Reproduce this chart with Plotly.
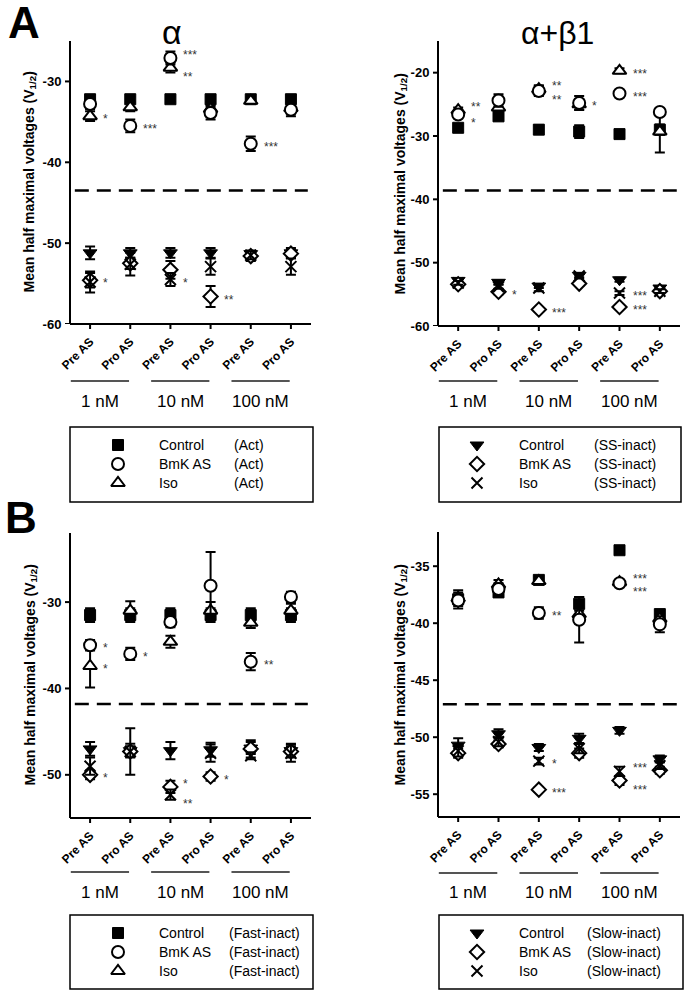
import plotly.graph_objects as go

W, H = 685, 995

# ── Data ──────────────────────────────────────────────────────────────────────
categories = ["Pre AS", "Pro AS", "Pre AS", "Pro AS", "Pre AS", "Pro AS"]
groups = ["1 nM", "10 nM", "100 nM"]
titles = ["α", "α+β1", "", ""]
separators = [-43.5, -38.6, -41.8, -47.1]

# Panel A, alpha
aa_ctrl_act = [-32.2, -32.2, -32.2, -32.2, -32.2, -32.2]
aa_ctrl_act_err = [0.3, 0.3, 0.3, 0.3, 0.3, 0.3]
aa_bmk_act = [-32.8, -35.5, -27.1, -33.9, -37.7, -33.5]
aa_bmk_act_err = [0.6, 0.8, 0.8, 0.8, 0.9, 0.8]
aa_iso_act = [-34.3, -33.2, -28.3, -33.4, -32.4, -33.3]
aa_iso_act_err = [0.6, 0.5, 0.6, 0.5, 0.3, 0.5]
aa_ctrl_in = [-51.2, -51.2, -51.2, -51.2, -51.3, -51.2]
aa_ctrl_in_err = [0.8, 0.6, 0.6, 0.6, 0.4, 0.6]
aa_bmk_in = [-54.6, -52.5, -53.3, -56.6, -51.6, -51.3]
aa_bmk_in_err = [0.9, 0.7, 1.1, 1.3, 0.6, 0.5]
aa_iso_in = [-54.8, -52.6, -54.5, -52.9, -51.5, -52.9]
aa_iso_in_err = [1.3, 1.4, 0.8, 1.0, 0.5, 1.0]
aa_bmk_act_sig = ["", "***", "***", "", "***", ""]
aa_iso_act_sig = ["*", "", "**", "", "", ""]
aa_bmk_in_sig = ["*", "", "", "**", "", ""]
aa_iso_in_sig = ["", "", "*", "", "", ""]

# Panel A, alpha+beta1
ab_ctrl_act = [-28.7, -26.9, -29.0, -29.3, -29.7, -29.0]
ab_ctrl_act_err = [0.3, 0.6, 0.7, 1.0, 0.3, 0.8]
ab_bmk_act = [-26.6, -24.4, -22.9, -24.8, -23.3, -26.2]
ab_bmk_act_err = [0.4, 1.0, 0.8, 1.1, 0.3, 0.5]
ab_iso_act = [-25.9, -25.5, -22.6, -25.0, -19.7, -29.3]
ab_iso_act_err = [0.4, 0.9, 0.6, 0.8, 0.4, 3.3]
ab_ctrl_in = [-52.8, -53.1, -53.7, -52.0, -52.7, -54.0]
ab_ctrl_in_err = [0.3, 0.3, 0.3, 0.3, 0.3, 0.3]
ab_bmk_in = [-53.4, -54.6, -57.4, -53.3, -57.0, -54.5]
ab_bmk_in_err = [0.3, 0.4, 0.3, 0.4, 0.2, 0.3]
ab_iso_in = [-53.2, -53.8, -54.0, -52.1, -54.8, -54.5]
ab_iso_in_err = [0.3, 0.3, 0.5, 0.4, 0.3, 0.3]
ab_bmk_act_sig = ["*", "", "**", "*", "***", ""]
ab_iso_act_sig = ["**", "", "**", "", "***", ""]
ab_bmk_in_sig = ["", "*", "***", "", "***", ""]
ab_iso_in_sig = ["", "", "", "", "***", ""]

# Panel B, alpha
ba_ctrl_act = [-31.5, -31.5, -31.5, -31.5, -31.5, -31.5]
ba_ctrl_act_err = [0.8, 0.8, 0.8, 0.8, 0.8, 0.8]
ba_bmk_act = [-35.0, -36.0, -32.3, -28.1, -36.9, -29.4]
ba_bmk_act_err = [0.6, 0.7, 0.6, 3.9, 1.0, 0.6]
ba_iso_act = [-37.4, -31.0, -34.6, -31.0, -32.4, -31.0]
ba_iso_act_err = [2.5, 1.1, 0.7, 1.0, 0.6, 0.8]
ba_ctrl_in = [-47.0, -47.2, -47.2, -47.1, -46.9, -47.2]
ba_ctrl_in_err = [0.8, 0.8, 1.0, 0.8, 0.7, 0.8]
ba_bmk_in = [-50.0, -47.3, -51.4, -50.2, -47.0, -47.3]
ba_bmk_in_err = [0.5, 0.6, 0.7, 0.5, 1.0, 0.6]
ba_iso_in = [-49.0, -47.3, -52.3, -47.5, -47.8, -47.5]
ba_iso_in_err = [1.0, 2.7, 0.6, 1.0, 0.4, 1.0]
ba_bmk_act_sig = ["*", "*", "", "", "**", ""]
ba_iso_act_sig = ["*", "", "", "", "", ""]
ba_bmk_in_sig = ["*", "", "*", "*", "", ""]
ba_iso_in_sig = ["", "", "**", "", "", ""]

# Panel B, alpha+beta1
bb_ctrl_act = [-37.9, -37.3, -36.2, -38.3, -33.6, -39.2]
bb_ctrl_act_err = [0.8, 0.4, 0.3, 0.6, 0.3, 0.3]
bb_bmk_act = [-38.0, -37.0, -39.1, -39.7, -36.5, -40.1]
bb_bmk_act_err = [0.5, 0.5, 0.5, 2.0, 0.2, 0.7]
bb_iso_act = [-37.8, -36.6, -36.3, -39.2, -36.4, -39.6]
bb_iso_act_err = [0.5, 0.4, 0.3, 0.5, 0.2, 0.4]
bb_ctrl_in = [-50.7, -49.7, -50.9, -50.1, -49.4, -51.9]
bb_ctrl_in_err = [0.6, 0.4, 0.3, 0.4, 0.3, 0.3]
bb_bmk_in = [-51.4, -50.6, -54.6, -51.4, -53.8, -52.9]
bb_bmk_in_err = [0.4, 0.3, 0.2, 0.4, 0.4, 0.3]
bb_iso_in = [-51.2, -50.4, -52.1, -51.0, -53.0, -52.5]
bb_iso_in_err = [0.5, 0.4, 0.3, 0.4, 0.4, 0.3]
bb_bmk_act_sig = ["", "", "**", "", "***", ""]
bb_iso_act_sig = ["", "", "", "", "***", ""]
bb_bmk_in_sig = ["", "", "***", "", "***", ""]
bb_iso_in_sig = ["", "", "*", "", "***", ""]

legend_names = ["Control", "BmK AS", "Iso"]
legend_tags = ["(Act)", "(SS-inact)", "(Fast-inact)", "(Slow-inact)"]

# ── Styles ────────────────────────────────────────────────────────────────────
FONT = "Liberation Sans, Arial, sans-serif"
M_CTRL_ACT = dict(symbol="square", size=11, color="black", line=dict(color="black", width=1))
M_BMK_ACT = dict(symbol="circle", size=12, color="white", line=dict(color="black", width=2))
M_ISO_ACT = dict(symbol="triangle-up", size=12, color="white", line=dict(color="black", width=2))
M_CTRL_IN = dict(symbol="triangle-down", size=12, color="black", line=dict(color="black", width=1))
M_BMK_IN = dict(symbol="diamond", size=11, color="white", line=dict(color="black", width=2))
M_ISO_IN = dict(symbol="x-thin", size=11, color="black", line=dict(color="black", width=2))
AXIS_LINE = dict(color="black", width=2)

# pixel boxes of each plot area: (left, right, top, bottom)
boxes = [(70, 311, 41, 324), (438, 680, 41, 326), (70, 311, 533, 818), (438, 680, 532, 817)]
yranges = [[-60, -25], [-60, -15], [-55, -22], [-57, -32]]
dticks = [10, 10, 10, 5]
legend_boxes = [(70, 313, 427, 502), (439, 681, 427, 502), (70, 313, 915, 989), (439, 683, 915, 989)]
legend_cols = [(118, 157, 232), (477, 517, 592), (118, 157, 227), (477, 517, 585)]
legend_rows = [(445, 464, 483), (445, 464, 483), (933, 952, 971), (933, 952, 971)]
group_line_y = [381, 381, 872, 873]
group_label_y = [401, 401, 892, 892]
title_x = [30, 400, 30, 400]


def px(x):
    return x / W


def py(y):
    return 1 - y / H


def bold(v):
    return f"<b>{v}</b>"


panels = [
    [(aa_ctrl_act, aa_ctrl_act_err, M_CTRL_ACT, None), (aa_iso_act, aa_iso_act_err, M_ISO_ACT, aa_iso_act_sig),
     (aa_bmk_act, aa_bmk_act_err, M_BMK_ACT, aa_bmk_act_sig), (aa_ctrl_in, aa_ctrl_in_err, M_CTRL_IN, None),
     (aa_bmk_in, aa_bmk_in_err, M_BMK_IN, aa_bmk_in_sig), (aa_iso_in, aa_iso_in_err, M_ISO_IN, aa_iso_in_sig)],
    [(ab_ctrl_act, ab_ctrl_act_err, M_CTRL_ACT, None), (ab_iso_act, ab_iso_act_err, M_ISO_ACT, ab_iso_act_sig),
     (ab_bmk_act, ab_bmk_act_err, M_BMK_ACT, ab_bmk_act_sig), (ab_ctrl_in, ab_ctrl_in_err, M_CTRL_IN, None),
     (ab_bmk_in, ab_bmk_in_err, M_BMK_IN, ab_bmk_in_sig), (ab_iso_in, ab_iso_in_err, M_ISO_IN, ab_iso_in_sig)],
    [(ba_ctrl_act, ba_ctrl_act_err, M_CTRL_ACT, None), (ba_iso_act, ba_iso_act_err, M_ISO_ACT, ba_iso_act_sig),
     (ba_bmk_act, ba_bmk_act_err, M_BMK_ACT, ba_bmk_act_sig), (ba_ctrl_in, ba_ctrl_in_err, M_CTRL_IN, None),
     (ba_bmk_in, ba_bmk_in_err, M_BMK_IN, ba_bmk_in_sig), (ba_iso_in, ba_iso_in_err, M_ISO_IN, ba_iso_in_sig)],
    [(bb_ctrl_act, bb_ctrl_act_err, M_CTRL_ACT, None), (bb_iso_act, bb_iso_act_err, M_ISO_ACT, bb_iso_act_sig),
     (bb_bmk_act, bb_bmk_act_err, M_BMK_ACT, bb_bmk_act_sig), (bb_ctrl_in, bb_ctrl_in_err, M_CTRL_IN, None),
     (bb_bmk_in, bb_bmk_in_err, M_BMK_IN, bb_bmk_in_sig), (bb_iso_in, bb_iso_in_err, M_ISO_IN, bb_iso_in_sig)],
]
legend_markers = [
    [M_CTRL_ACT, M_BMK_ACT, M_ISO_ACT], [M_CTRL_IN, M_BMK_IN, M_ISO_IN],
    [M_CTRL_ACT, M_BMK_ACT, M_ISO_ACT], [M_CTRL_IN, M_BMK_IN, M_ISO_IN],
]

fig = go.Figure()
layout = {}
shapes = []
annotations = []
xs = list(range(len(categories)))

for p, series in enumerate(panels):
    sfx = "" if p == 0 else str(p + 1)
    xa, ya = "x" + sfx, "y" + sfx
    l, r, t, b = boxes[p]
    y0, y1 = yranges[p]
    yt = [v for v in range(int(y0), int(y1) + 1) if v % dticks[p] == 0]
    layout["xaxis" + sfx] = dict(
        domain=[px(l), px(r)], anchor=ya, range=[-0.5, 5.5],
        tickmode="array", tickvals=xs, ticktext=[bold(c) for c in categories], tickangle=-45,
        showline=False, showgrid=False, zeroline=False, automargin=False,
        ticks="outside", ticklen=5, tickwidth=2, tickcolor="rgba(0,0,0,0)",
        tickfont=dict(family=FONT, size=12, color="black"),
    )
    layout["yaxis" + sfx] = dict(
        domain=[py(b), py(t)], anchor=xa, range=yranges[p],
        tickmode="array", tickvals=yt, ticktext=[bold(v) for v in yt],
        showline=False, showgrid=False, zeroline=False, automargin=False,
        ticks="outside", ticklen=5, tickwidth=2, tickcolor="rgba(0,0,0,0)",
        tickfont=dict(family=FONT, size=13, color="black"),
    )

    # axis lines and tick marks
    shapes.append(dict(type="line", xref=xa + " domain", yref=ya + " domain",
                       x0=0, x1=1, y0=0, y1=0, line=AXIS_LINE))
    shapes.append(dict(type="line", xref=xa + " domain", yref=ya + " domain",
                       x0=0, x1=0, y0=0, y1=1, line=AXIS_LINE))
    for i in xs:
        shapes.append(dict(type="line", xref=xa, yref=ya + " domain", ysizemode="pixel", yanchor=0,
                           x0=i, x1=i, y0=0, y1=-5, line=AXIS_LINE))
    for v in yt:
        shapes.append(dict(type="line", xref=xa + " domain", yref=ya, xsizemode="pixel", xanchor=0,
                           x0=0, x1=-5, y0=v, y1=v, line=AXIS_LINE))

    for vals, errs, marker, _ in series:
        fig.add_trace(go.Scatter(
            x=xs, y=vals, xaxis=xa, yaxis=ya, mode="markers", marker=marker,
            error_y=dict(type="data", array=errs, color="black", thickness=2, width=5),
            showlegend=False, hoverinfo="skip", cliponaxis=False,
        ))

    # significance stars; shift apart when two starred points sit close together
    for a, bgrp in ((1, 2), (4, 5)):
        va, sa = series[a][0], series[a][3]
        vb, sb = series[bgrp][0], series[bgrp][3]
        for i in xs:
            shifts = {a: 0, bgrp: 0}
            if sa[i] and sb[i] and abs(va[i] - vb[i]) < 1.6:
                hi, lo = (a, bgrp) if va[i] >= vb[i] else (bgrp, a)
                shifts[hi], shifts[lo] = 6, -6
            for k, vv, ss in ((a, va, sa), (bgrp, vb, sb)):
                if ss[i]:
                    annotations.append(dict(
                        x=i, y=vv[i], xref=xa, yref=ya, text=ss[i], showarrow=False,
                        xanchor="left", yanchor="middle", xshift=11, yshift=shifts[k] - 3,
                        font=dict(family=FONT, size=12, color="#333333"),
                    ))

    # dashed separator between activation and inactivation
    shapes.append(dict(type="line", xref=xa, yref=ya, x0=-0.38, x1=5.42,
                       y0=separators[p], y1=separators[p],
                       line=dict(color="black", width=2.5, dash="14px,8px")))

    # concentration groups under the axis
    for g, name in enumerate(groups):
        x0, x1 = 2 * g - 0.48, 2 * g + 0.97
        shapes.append(dict(type="line", xref=xa, yref="paper", x0=x0, x1=x1,
                           y0=py(group_line_y[p]), y1=py(group_line_y[p]),
                           line=dict(color="#555555", width=2)))
        annotations.append(dict(x=(x0 + x1) / 2, y=py(group_label_y[p]), xref=xa, yref="paper",
                                text=name, showarrow=False, xanchor="center", yanchor="middle",
                                font=dict(family=FONT, size=17, color="black")))

    # y title
    annotations.append(dict(x=px(title_x[p]), y=py((t + b) / 2), xref="paper", yref="paper",
                            text="<b>Mean half maximal voltages (V<sub>1/2</sub>)</b>", textangle=-90,
                            showarrow=False, xanchor="center", yanchor="middle",
                            font=dict(family=FONT, size=14, color="black")))

    # legend box with its own small axes (pixel units) for the swatches
    bl, br, bt, bb_ = legend_boxes[p]
    shapes.append(dict(type="rect", xref="paper", yref="paper", x0=px(bl), x1=px(br),
                       y0=py(bb_), y1=py(bt), line=dict(color="black", width=1.5)))
    lx, ly = "xaxis" + str(p + 5), "yaxis" + str(p + 5)
    layout[lx] = dict(domain=[px(bl), px(br)], range=[bl, br], visible=False, anchor="y" + str(p + 5))
    layout[ly] = dict(domain=[py(bb_), py(bt)], range=[bb_, bt], visible=False, anchor="x" + str(p + 5))
    mcol, ncol, tcol = legend_cols[p]
    for k in range(3):
        fig.add_trace(go.Scatter(
            x=[mcol], y=[legend_rows[p][k]], xaxis="x" + str(p + 5), yaxis="y" + str(p + 5),
            mode="markers", marker=legend_markers[p][k], showlegend=False, hoverinfo="skip",
        ))
        annotations.append(dict(x=px(ncol), y=py(legend_rows[p][k]), xref="paper", yref="paper",
                                text=legend_names[k], showarrow=False, xanchor="left", yanchor="middle",
                                font=dict(family=FONT, size=14, color="black")))
        annotations.append(dict(x=px(tcol), y=py(legend_rows[p][k]), xref="paper", yref="paper",
                                text=legend_tags[p], showarrow=False, xanchor="left", yanchor="middle",
                                font=dict(family=FONT, size=14, color="black")))

# panel titles and letters
annotations.append(dict(x=px(172), y=py(32), xref="paper", yref="paper", text=titles[0],
                        xanchor="center", yanchor="middle", showarrow=False,
                        font=dict(family=FONT, size=34, color="black")))
annotations.append(dict(x=px(557), y=py(33), xref="paper", yref="paper", text=titles[1],
                        xanchor="center", yanchor="middle", showarrow=False,
                        font=dict(family=FONT, size=32, color="black")))
annotations.append(dict(x=px(24), y=py(23), xref="paper", yref="paper", text="<b>A</b>",
                        xanchor="center", yanchor="middle", showarrow=False,
                        font=dict(family=FONT, size=44, color="black")))
annotations.append(dict(x=px(21), y=py(517), xref="paper", yref="paper", text="<b>B</b>",
                        xanchor="center", yanchor="middle", showarrow=False,
                        font=dict(family=FONT, size=44, color="black")))

fig.update_layout(
    **layout,
    width=W, height=H, autosize=False,
    margin=dict(l=0, r=0, t=0, b=0, autoexpand=False),
    paper_bgcolor="white", plot_bgcolor="white",
    shapes=shapes, annotations=annotations,
    showlegend=False,
)

fig.write_html(
    "out.html",
    config={"displayModeBar": False, "responsive": False},
    post_script="document.body.style.margin='0px';document.body.style.overflow='hidden';",
)
